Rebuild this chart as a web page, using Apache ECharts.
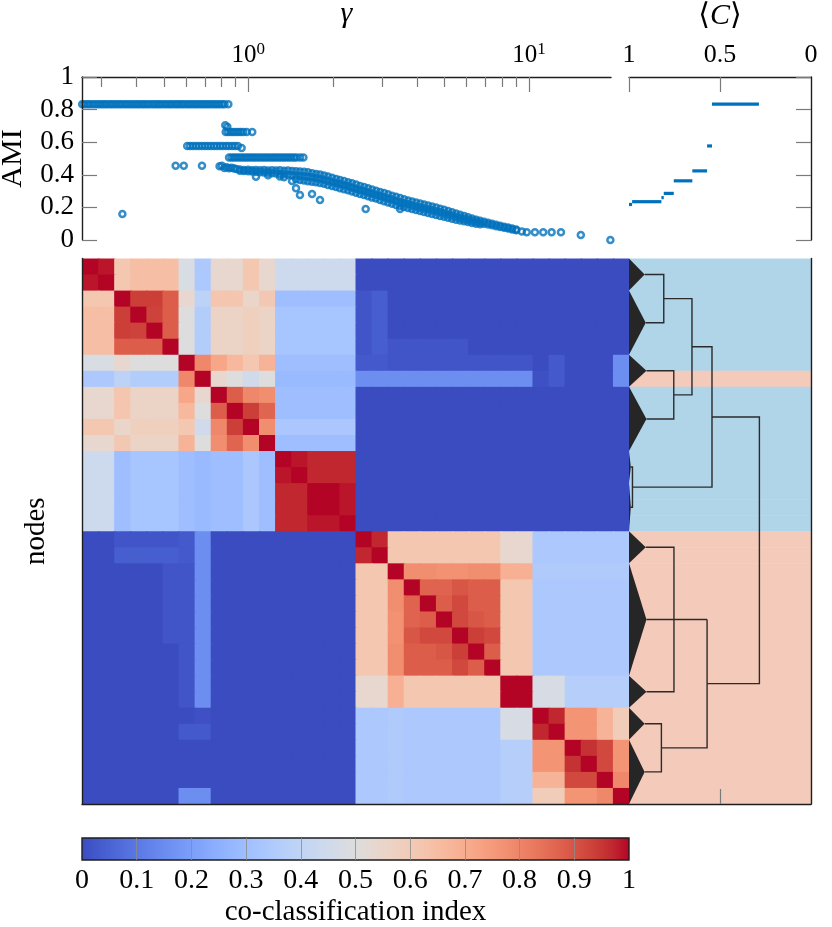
<!DOCTYPE html>
<html>
<head>
<meta charset="utf-8">
<script src="https://cdn.jsdelivr.net/npm/echarts@6/dist/echarts.min.js"></script>
<style>
  html, body { margin: 0; padding: 0; background: #fff; }
  #chart { width: 832px; height: 927px; }
</style>
</head>
<body>
<div id="chart"></div>
<script>
const FONT = '"Liberation Serif", "DejaVu Serif", serif'
const BLUE = '#0072bd'
const INK = '#1e1e1e'
const TICK = '#7a7a7a'

// ---- top left: AMI against gamma ----
const gammaRange = [0.2556, 19.6]
const plateauGamma = [0.256, 0.261, 0.267, 0.272, 0.278, 0.284, 0.290, 0.296, 0.302, 0.308, 0.314, 0.321,
  0.327, 0.334, 0.341, 0.348, 0.355, 0.363, 0.370, 0.378, 0.386, 0.394, 0.402, 0.410, 0.419, 0.427, 0.436,
  0.445, 0.455, 0.464, 0.474, 0.483, 0.493, 0.504, 0.514, 0.525, 0.535, 0.547, 0.558, 0.569, 0.581, 0.593,
  0.606, 0.618, 0.631, 0.644, 0.657, 0.671, 0.685, 0.699, 0.713, 0.728, 0.743, 0.759, 0.774, 0.790, 0.807,
  0.823, 0.849]
const plateauAmi = 0.833
const step070 = [[0.828, 0.704], [0.842, 0.694]]
const step066Gamma = [0.831, 0.848, 0.866, 0.884, 0.902, 0.921, 0.940, 0.960, 0.987, 1.033]
const step066Ami = 0.663
const step058Gamma = [0.606, 0.620, 0.635, 0.651, 0.667, 0.684, 0.701, 0.718, 0.736, 0.755, 0.773, 0.793,
  0.812, 0.833, 0.853, 0.875, 0.896, 0.918]
const step058Ami = 0.577
const step051Gamma = [0.854, 0.872, 0.890, 0.908, 0.927, 0.946, 0.966, 0.986, 1.006, 1.027, 1.048, 1.070,
  1.092, 1.115, 1.138, 1.161, 1.185, 1.210, 1.235, 1.260, 1.286, 1.313, 1.340, 1.368, 1.396, 1.425, 1.455,
  1.485, 1.530, 1.572]
const step051Ami = 0.506
const step044 = [[0.790, 0.452], [0.806, 0.455], [0.822, 0.442], [0.838, 0.446], [0.855, 0.440],
  [0.872, 0.444], [0.890, 0.438], [0.908, 0.436], [0.947, 0.565]]
const strays = [[0.356, 0.159], [0.551, 0.455], [0.589, 0.455], [0.684, 0.455]]
const cloud = [
  [0.934, 0.432], [0.934, 0.425], [0.965, 0.430], [0.965, 0.424], [0.998, 0.431], [0.998, 0.422],
  [1.031, 0.428], [1.031, 0.420], [1.065, 0.430], [1.065, 0.418], [1.065, 0.388], [1.101, 0.428],
  [1.101, 0.416], [1.138, 0.430], [1.138, 0.414], [1.176, 0.427], [1.176, 0.412], [1.176, 0.398],
  [1.215, 0.428], [1.215, 0.410], [1.256, 0.426], [1.256, 0.408], [1.297, 0.428], [1.297, 0.405],
  [1.297, 0.390], [1.341, 0.425], [1.341, 0.403], [1.341, 0.385], [1.385, 0.426], [1.385, 0.400],
  [1.432, 0.424], [1.432, 0.398], [1.432, 0.362], [1.479, 0.422], [1.479, 0.395], [1.479, 0.372],
  [1.479, 0.318], [1.528, 0.420], [1.528, 0.392], [1.528, 0.368], [1.528, 0.276], [1.580, 0.418],
  [1.580, 0.390], [1.580, 0.365], [1.632, 0.415], [1.632, 0.388], [1.632, 0.360], [1.687, 0.410],
  [1.687, 0.385], [1.687, 0.358], [1.687, 0.282], [1.743, 0.405], [1.743, 0.380], [1.743, 0.355],
  [1.801, 0.402], [1.801, 0.375], [1.801, 0.350], [1.801, 0.245], [1.861, 0.396], [1.861, 0.370],
  [1.861, 0.345], [1.923, 0.390], [1.923, 0.362], [1.923, 0.338], [1.988, 0.382], [1.988, 0.356],
  [1.988, 0.332], [2.054, 0.375], [2.054, 0.350], [2.054, 0.325], [2.122, 0.368], [2.122, 0.343],
  [2.122, 0.318], [2.193, 0.362], [2.193, 0.336], [2.193, 0.312], [2.267, 0.355], [2.267, 0.330],
  [2.267, 0.305], [2.342, 0.348], [2.342, 0.322], [2.342, 0.298], [2.420, 0.340], [2.420, 0.315],
  [2.420, 0.290], [2.501, 0.332], [2.501, 0.306], [2.501, 0.282], [2.585, 0.325], [2.585, 0.300],
  [2.585, 0.276], [2.620, 0.190], [2.671, 0.318], [2.671, 0.292], [2.671, 0.268], [2.760, 0.310],
  [2.760, 0.285], [2.760, 0.260], [2.852, 0.302], [2.852, 0.278], [2.852, 0.254], [2.948, 0.295],
  [2.948, 0.270], [2.948, 0.246], [3.046, 0.288], [3.046, 0.262], [3.046, 0.238], [3.148, 0.280],
  [3.148, 0.255], [3.148, 0.230], [3.253, 0.272], [3.253, 0.248], [3.253, 0.222], [3.361, 0.265],
  [3.361, 0.240], [3.361, 0.215], [3.474, 0.258], [3.474, 0.232], [3.474, 0.208], [3.474, 0.190],
  [3.590, 0.250], [3.590, 0.226], [3.590, 0.202], [3.709, 0.243], [3.709, 0.220], [3.709, 0.196],
  [3.833, 0.236], [3.833, 0.212], [3.833, 0.190], [3.961, 0.230], [3.961, 0.206], [3.961, 0.184],
  [4.094, 0.224], [4.094, 0.200], [4.094, 0.178], [4.230, 0.218], [4.230, 0.194], [4.230, 0.172],
  [4.372, 0.212], [4.372, 0.188], [4.372, 0.166], [4.517, 0.206], [4.517, 0.182], [4.517, 0.160],
  [4.668, 0.200], [4.668, 0.176], [4.668, 0.154], [4.824, 0.192], [4.824, 0.170], [4.824, 0.148],
  [4.985, 0.185], [4.985, 0.162], [4.985, 0.142], [5.152, 0.178], [5.152, 0.156], [5.152, 0.136],
  [5.323, 0.170], [5.323, 0.150], [5.323, 0.130], [5.501, 0.162], [5.501, 0.143], [5.501, 0.125],
  [5.685, 0.155], [5.685, 0.136], [5.685, 0.120], [5.875, 0.148], [5.875, 0.130], [5.875, 0.115],
  [6.071, 0.140], [6.071, 0.124], [6.071, 0.110], [6.273, 0.132], [6.273, 0.118], [6.273, 0.105],
  [6.483, 0.125], [6.483, 0.112], [6.483, 0.100], [6.699, 0.118], [6.699, 0.106], [6.699, 0.096],
  [6.923, 0.112], [6.923, 0.100], [7.154, 0.106], [7.154, 0.095], [7.393, 0.100], [7.393, 0.090],
  [7.640, 0.094], [7.640, 0.085], [7.895, 0.088], [7.895, 0.080], [8.159, 0.082], [8.159, 0.075],
  [8.431, 0.076], [8.431, 0.070], [8.713, 0.070], [8.713, 0.064], [9.003, 0.065], [9.003, 0.060]
]
const tail = [[9.43, 0.052], [9.82, 0.047], [10.5, 0.047], [11.24, 0.047], [12.04, 0.047], [13.0, 0.047],
  [15.3, 0.031], [19.5, 0.0]]
const gammaMajor = [1, 10]
const gammaMinor = [0.3, 0.4, 0.5, 0.6, 0.7, 0.8, 0.9, 2, 3, 4, 5, 6, 7, 8, 9]

// ---- top right: AMI against mean co-classification, [C from, C to, AMI] ----
const cSegments = [[1.0, 0.983, 0.218], [0.983, 0.822, 0.235], [0.822, 0.809, 0.26], [0.809, 0.754, 0.286],
  [0.754, 0.652, 0.363], [0.652, 0.571, 0.424], [0.571, 0.544, 0.577], [0.544, 0.286, 0.833]]

// ---- co-classification matrix, 34 nodes in dendrogram order ----
const coClass = [
  [1, .985, .615, .645, .645, .645, .48, .34, .54, .54, .615, .54, .44, .44, .44, .44, .44, 0, 0, 0, 0, 0, 0, 0, 0, 0, 0, 0, 0, 0, 0, 0, 0, 0],
  [.985, 1, .615, .645, .645, .645, .48, .34, .54, .54, .615, .54, .44, .44, .44, .44, .44, 0, 0, 0, 0, 0, 0, 0, 0, 0, 0, 0, 0, 0, 0, 0, 0, 0],
  [.615, .615, 1, .935, .935, .88, .54, .39, .62, .62, .55, .61, .30, .30, .30, .30, .30, .02, .04, 0, 0, 0, 0, 0, 0, 0, 0, 0, 0, 0, 0, 0, 0, 0],
  [.645, .645, .935, 1, .93, .88, .50, .36, .56, .56, .58, .56, .325, .325, .325, .325, .325, .02, .04, 0, 0, 0, 0, 0, 0, 0, 0, 0, 0, 0, 0, 0, 0, 0],
  [.645, .645, .935, .93, 1, .88, .50, .36, .56, .56, .58, .56, .325, .325, .325, .325, .325, .02, .04, 0, 0, 0, 0, 0, 0, 0, 0, 0, 0, 0, 0, 0, 0, 0],
  [.645, .645, .88, .88, .88, 1, .50, .36, .56, .56, .58, .56, .325, .325, .325, .325, .325, .02, .04, .02, .02, .02, .02, .02, 0, 0, 0, 0, 0, 0, 0, 0, 0, 0],
  [.48, .48, .54, .50, .50, .50, 1, .795, .72, .665, .615, .68, .30, .30, .30, .30, .30, .03, .03, .02, .02, .02, .02, .02, .02, .02, .02, .02, 0, .03, 0, 0, 0, .155],
  [.34, .34, .39, .36, .36, .36, .795, 1, .54, .50, .455, .50, .285, .285, .285, .285, .285, .155, .155, .155, .155, .155, .155, .155, .155, .155, .155, .155, .01, .03, 0, 0, 0, .155],
  [.54, .54, .62, .56, .56, .56, .72, .54, 1, .88, .795, .78, .30, .30, .30, .30, .30, 0, 0, 0, 0, 0, 0, 0, 0, 0, 0, 0, 0, 0, 0, 0, 0, 0],
  [.54, .54, .62, .56, .56, .56, .665, .50, .88, 1, .935, .865, .30, .30, .30, .30, .30, 0, 0, 0, 0, 0, 0, 0, 0, 0, 0, 0, 0, 0, 0, 0, 0, 0],
  [.615, .615, .55, .58, .58, .58, .615, .455, .795, .935, 1, .78, .335, .335, .335, .335, .335, 0, 0, 0, 0, 0, 0, 0, 0, 0, 0, 0, 0, 0, 0, 0, 0, 0],
  [.54, .54, .61, .56, .56, .56, .68, .50, .78, .865, .78, 1, .30, .30, .30, .30, .30, 0, 0, 0, 0, 0, 0, 0, 0, 0, 0, 0, 0, 0, 0, 0, 0, 0],
  [.44, .44, .30, .325, .325, .325, .30, .285, .30, .30, .335, .30, 1, .985, .97, .97, .97, 0, 0, 0, 0, 0, 0, 0, 0, 0, 0, 0, 0, 0, 0, 0, 0, 0],
  [.44, .44, .30, .325, .325, .325, .30, .285, .30, .30, .335, .30, .985, 1, .97, .97, .97, 0, 0, 0, 0, 0, 0, 0, 0, 0, 0, 0, 0, 0, 0, 0, 0, 0],
  [.44, .44, .30, .325, .325, .325, .30, .285, .30, .30, .335, .30, .97, .97, 1, 1, .985, 0, 0, 0, 0, 0, 0, 0, 0, 0, 0, 0, 0, 0, 0, 0, 0, 0],
  [.44, .44, .30, .325, .325, .325, .30, .285, .30, .30, .335, .30, .97, .97, 1, 1, .985, 0, 0, 0, 0, 0, 0, 0, 0, 0, 0, 0, 0, 0, 0, 0, 0, 0],
  [.44, .44, .30, .325, .325, .325, .30, .285, .30, .30, .335, .30, .97, .97, .985, .985, 1, 0, 0, 0, 0, 0, 0, 0, 0, 0, 0, 0, 0, 0, 0, 0, 0, 0],
  [0, 0, .02, .02, .02, .02, .03, .155, 0, 0, 0, 0, 0, 0, 0, 0, 0, 1, .97, .615, .615, .615, .615, .615, .615, .615, .54, .54, .34, .34, .34, .34, .34, .34],
  [0, 0, .04, .04, .04, .04, .03, .155, 0, 0, 0, 0, 0, 0, 0, 0, 0, .97, 1, .615, .615, .615, .615, .615, .615, .615, .54, .54, .34, .34, .34, .34, .34, .34],
  [0, 0, 0, 0, 0, .02, .02, .155, 0, 0, 0, 0, 0, 0, 0, 0, 0, .615, .615, 1, .78, .78, .77, .77, .78, .78, .69, .69, .35, .35, .35, .35, .35, .35],
  [0, 0, 0, 0, 0, .02, .02, .155, 0, 0, 0, 0, 0, 0, 0, 0, 0, .615, .615, .78, 1, .87, .87, .895, .88, .88, .615, .615, .34, .34, .34, .34, .34, .34],
  [0, 0, 0, 0, 0, .02, .02, .155, 0, 0, 0, 0, 0, 0, 0, 0, 0, .615, .615, .78, .87, 1, .88, .92, .88, .88, .615, .615, .34, .34, .34, .34, .34, .34],
  [0, 0, 0, 0, 0, .02, .02, .155, 0, 0, 0, 0, 0, 0, 0, 0, 0, .615, .615, .77, .87, .88, 1, .92, .895, .88, .615, .615, .34, .34, .34, .34, .34, .34],
  [0, 0, 0, 0, 0, .02, .02, .155, 0, 0, 0, 0, 0, 0, 0, 0, 0, .615, .615, .77, .895, .92, .92, 1, .935, .92, .615, .615, .34, .34, .34, .34, .34, .34],
  [0, 0, 0, 0, 0, 0, .02, .155, 0, 0, 0, 0, 0, 0, 0, 0, 0, .615, .615, .78, .88, .88, .895, .935, 1, .88, .615, .615, .34, .34, .34, .34, .34, .34],
  [0, 0, 0, 0, 0, 0, .02, .155, 0, 0, 0, 0, 0, 0, 0, 0, 0, .615, .615, .78, .88, .88, .88, .92, .88, 1, .615, .615, .34, .34, .34, .34, .34, .34],
  [0, 0, 0, 0, 0, 0, .02, .155, 0, 0, 0, 0, 0, 0, 0, 0, 0, .54, .54, .69, .615, .615, .615, .615, .615, .615, 1, 1, .475, .475, .37, .37, .37, .37],
  [0, 0, 0, 0, 0, 0, .02, .155, 0, 0, 0, 0, 0, 0, 0, 0, 0, .54, .54, .69, .615, .615, .615, .615, .615, .615, 1, 1, .475, .475, .37, .37, .37, .37],
  [0, 0, 0, 0, 0, 0, 0, .01, 0, 0, 0, 0, 0, 0, 0, 0, 0, .34, .34, .35, .34, .34, .34, .34, .34, .34, .475, .475, 1, .97, .765, .765, .68, .595],
  [0, 0, 0, 0, 0, 0, .03, .03, 0, 0, 0, 0, 0, 0, 0, 0, 0, .34, .34, .35, .34, .34, .34, .34, .34, .34, .475, .475, .97, 1, .765, .765, .68, .595],
  [0, 0, 0, 0, 0, 0, 0, 0, 0, 0, 0, 0, 0, 0, 0, 0, 0, .34, .34, .35, .34, .34, .34, .34, .34, .34, .37, .37, .765, .765, 1, .955, .92, .765],
  [0, 0, 0, 0, 0, 0, 0, 0, 0, 0, 0, 0, 0, 0, 0, 0, 0, .34, .34, .35, .34, .34, .34, .34, .34, .34, .37, .37, .765, .765, .955, 1, .92, .765],
  [0, 0, 0, 0, 0, 0, 0, 0, 0, 0, 0, 0, 0, 0, 0, 0, 0, .34, .34, .35, .34, .34, .34, .34, .34, .34, .37, .37, .68, .68, .92, .92, 1, .795],
  [0, 0, 0, 0, 0, 0, .155, .155, 0, 0, 0, 0, 0, 0, 0, 0, 0, .34, .34, .35, .34, .34, .34, .34, .34, .34, .37, .37, .595, .595, .765, .765, .795, 1]
]
const colorTicks = [0, 0.1, 0.2, 0.3, 0.4, 0.5, 0.6, 0.7, 0.8, 0.9, 1]

// ---- dendrogram: final community of each node, leaf wedges, links ----
const nodeGroup = [0, 0, 0, 0, 0, 0, 0, 1, 0, 0, 0, 0, 0, 0, 0, 0, 0,
  1, 1, 1, 1, 1, 1, 1, 1, 1, 1, 1, 1, 1, 1, 1, 1, 1]
// [first row, last row + 1, <C> at the tip]
const leafWedges = [[0, 2, 0.914], [2, 6, 0.908], [6, 8, 0.904], [8, 12, 0.904], [12, 14, 0.99], [14, 17, 0.99],
  [17, 19, 0.908], [19, 26, 0.904], [26, 28, 0.904], [28, 30, 0.914], [30, 34, 0.914]]
// [row a, row b, <C> of child a, <C> of child b, <C> of merge]
const links = [[1, 4, 0.914, 0.908, 0.809], [7, 10, 0.904, 0.904, 0.754], [2.5, 8.5, 0.809, 0.754, 0.654],
  [13, 15.5, 0.99, 0.99, 0.981], [5.5, 14.25, 0.654, 0.981, 0.544], [18, 27, 0.908, 0.904, 0.753],
  [22.5, 22.5, 0.753, 0.904, 0.571], [29, 32, 0.914, 0.914, 0.822], [22.5, 30.5, 0.571, 0.822, 0.571],
  [9.875, 26.5, 0.544, 0.571, 0.2835]]

const coolwarm = ['#3b4cc0', '#445acc', '#4d68d7', '#5775e1', '#6282ea', '#6c8ef1', '#779af7', '#82a5fb',
  '#8db0fe', '#98b9ff', '#a3c2ff', '#aec9fd', '#b8d0f9', '#c2d5f4', '#ccd9ee', '#d5dbe6', '#dddddd',
  '#e5d8d1', '#ecd3c5', '#f1ccb9', '#f5c4ad', '#f7bba0', '#f7b194', '#f7a687', '#f49a7b', '#f18d6f',
  '#ec7f63', '#e57058', '#de604d', '#d55042', '#cb3e38', '#c0282f', '#b40426']
const groupColors = ['#b0d4e8', '#f4cbbb']

const nodeIds = coClass.map((row, i) => String(i))
const lastNode = nodeIds.length - 1
const heatData = []
coClass.forEach((row, r) => row.forEach((v, c) => heatData.push([c, r, v])))

const scatterData = [].concat(
  plateauGamma.map(g => [g, plateauAmi]),
  step070,
  step066Gamma.map(g => [g, step066Ami]),
  step058Gamma.map(g => [g, step058Ami]),
  step051Gamma.map(g => [g, step051Ami]),
  step044, strays, cloud, tail
)

const axisLine = { show: true, onZero: false, lineStyle: { color: INK, width: 1.4 } }
const tickStyle = { color: TICK, width: 1.2 }
const noTick = { show: false }
const noLabel = { show: false }
const noSplit = { show: false }
const gridBox = (left, top, width, height) => ({ left, top, width, height, outerBoundsMode: 'none', containLabel: false })

const chart = echarts.init(document.getElementById('chart'))
chart.setOption({
  animation: false,
  textStyle: { fontFamily: FONT, color: '#000' },
  grid: [
    gridBox(82, 77, 529, 163),
    gridBox(629, 77, 182, 163),
    gridBox(82, 258.5, 547, 545.5),
    gridBox(629, 258.5, 182, 545.5),
    gridBox(82, 838, 547, 22)
  ],
  xAxis: [
    {
      gridIndex: 0, type: 'log', position: 'top', min: gammaRange[0], max: gammaRange[1], z: 5,
      name: 'γ', nameLocation: 'middle', nameGap: 48,
      nameTextStyle: { fontFamily: FONT, fontSize: 30, fontStyle: 'italic', color: '#000' },
      axisLine: axisLine,
      axisTick: { show: true, inside: true, length: 15, customValues: gammaMajor, lineStyle: tickStyle },
      axisLabel: {
        customValues: gammaMajor, margin: 8,
        formatter: v => '{b|10}{s|' + Math.round(Math.log10(v)) + '}',
        rich: {
          b: { fontFamily: FONT, fontSize: 25, lineHeight: 28, color: '#000' },
          s: { fontFamily: FONT, fontSize: 17, lineHeight: 18, verticalAlign: 'top', color: '#000' }
        }
      },
      splitLine: noSplit
    },
    {
      gridIndex: 0, type: 'log', position: 'top', min: gammaRange[0], max: gammaRange[1], z: 5,
      axisLine: { show: false, onZero: false },
      axisTick: { show: true, inside: true, length: 10, customValues: gammaMinor, lineStyle: tickStyle },
      axisLabel: noLabel, splitLine: noSplit
    },
    {
      gridIndex: 1, type: 'value', position: 'top', min: 0, max: 1, inverse: true, z: 5,
      name: '⟨{i|C}⟩', nameLocation: 'middle', nameGap: 46,
      nameTextStyle: {
        fontFamily: FONT, fontSize: 30, color: '#000',
        rich: { i: { fontFamily: FONT, fontSize: 30, fontStyle: 'italic', color: '#000' } }
      },
      axisLine: axisLine,
      axisTick: { show: true, inside: true, length: 15, customValues: [1, 0.5], lineStyle: tickStyle },
      axisLabel: { customValues: [1, 0.5, 0], margin: 9, fontFamily: FONT, fontSize: 26, color: '#000' },
      splitLine: noSplit
    },
    {
      gridIndex: 2, type: 'category', data: nodeIds, position: 'bottom', z: 5,
      axisLine: axisLine, axisTick: noTick, axisLabel: noLabel, splitLine: noSplit
    },
    {
      gridIndex: 3, type: 'value', position: 'bottom', min: 0, max: 1, inverse: true, z: 5,
      axisLine: axisLine,
      axisTick: { show: true, inside: true, length: 15, customValues: [0.5], lineStyle: tickStyle },
      axisLabel: noLabel, splitLine: noSplit
    },
    {
      gridIndex: 4, type: 'value', position: 'bottom', min: 0, max: 1, interval: 0.1, z: 10,
      name: 'co-classification index', nameLocation: 'middle', nameGap: 38,
      nameTextStyle: { fontFamily: FONT, fontSize: 29, color: '#000' },
      axisLine: { show: false, onZero: false },
      axisTick: { inside: true, length: 22, customValues: colorTicks.slice(1, -1), lineStyle: { color: '#8c8c8c', width: 0.8 } },
      axisLabel: { customValues: colorTicks, margin: 7, fontFamily: FONT, fontSize: 28, color: '#000' },
      splitLine: noSplit
    }
  ],
  yAxis: [
    {
      gridIndex: 0, type: 'value', position: 'left', min: 0, max: 1, interval: 0.2, z: 5,
      name: 'AMI', nameLocation: 'middle', nameGap: 54, nameRotate: 90,
      nameTextStyle: { fontFamily: FONT, fontSize: 30, color: '#000' },
      axisLine: axisLine,
      axisTick: { show: true, inside: true, length: 15, lineStyle: tickStyle },
      axisLabel: { margin: 8, fontFamily: FONT, fontSize: 27, color: '#000' },
      splitLine: noSplit
    },
    {
      gridIndex: 1, type: 'value', position: 'right', min: 0, max: 1, interval: 0.2, z: 5,
      axisLine: axisLine,
      axisTick: { show: true, inside: true, length: 15, lineStyle: tickStyle },
      axisLabel: noLabel, splitLine: noSplit
    },
    {
      gridIndex: 2, type: 'category', data: nodeIds, inverse: true, position: 'left', z: 5,
      name: 'nodes', nameLocation: 'middle', nameGap: 31, nameRotate: 90,
      nameTextStyle: { fontFamily: FONT, fontSize: 29, color: '#000' },
      axisLine: axisLine, axisTick: noTick, axisLabel: noLabel, splitLine: noSplit
    },
    {
      gridIndex: 3, type: 'value', position: 'right', min: 0, max: 34, inverse: true, z: 5,
      axisLine: axisLine, axisTick: noTick, axisLabel: noLabel, splitLine: noSplit
    },
    {
      gridIndex: 4, type: 'value', min: 0, max: 1, show: false
    }
  ],
  visualMap: {
    show: false, type: 'continuous', min: 0, max: 1, dimension: 2, seriesIndex: 2,
    inRange: { color: coolwarm }
  },
  series: [
    {
      type: 'scatter', xAxisIndex: 0, yAxisIndex: 0, data: scatterData,
      symbol: 'circle', symbolSize: 6,
      itemStyle: { color: 'rgba(0,0,0,0)', borderColor: BLUE, borderWidth: 2.5 },
      emphasis: { disabled: true }
    },
    {
      type: 'custom', coordinateSystem: 'cartesian2d', xAxisIndex: 2, yAxisIndex: 1,
      data: cSegments,
      encode: { x: [0, 1], y: 2 },
      renderItem: (params, api) => {
        const a = api.coord([api.value(0), api.value(2)])
        const b = api.coord([api.value(1), api.value(2)])
        return {
          type: 'rect',
          shape: { x: Math.min(a[0], b[0]), y: a[1] - 1.6, width: Math.abs(b[0] - a[0]), height: 3.2 },
          style: { fill: BLUE }
        }
      }
    },
    {
      // heat cells overlap their right and lower neighbours by a pixel so no seams show
      type: 'custom', coordinateSystem: 'cartesian2d', xAxisIndex: 3, yAxisIndex: 2,
      data: heatData,
      encode: { x: 0, y: 1 },
      renderItem: (params, api) => {
        const p = api.coord([api.value(0), api.value(1)])
        const s = api.size([1, 1])
        const padX = api.value(0) < lastNode ? 1.2 : 0
        const padY = api.value(1) < lastNode ? 1.2 : 0
        return {
          type: 'rect',
          shape: { x: p[0] - s[0] / 2, y: p[1] - s[1] / 2, width: s[0] + padX, height: s[1] + padY },
          style: { fill: api.visual('color') }
        }
      }
    },
    {
      type: 'custom', coordinateSystem: 'cartesian2d', xAxisIndex: 4, yAxisIndex: 3,
      data: nodeGroup.map((g, i) => [i, g]),
      encode: { y: 0 },
      renderItem: (params, api) => {
        const a = api.coord([1, api.value(0)])
        const b = api.coord([0, api.value(0) + 1])
        return {
          type: 'rect',
          shape: { x: Math.min(a[0], b[0]), y: Math.min(a[1], b[1]), width: Math.abs(b[0] - a[0]), height: Math.abs(b[1] - a[1]) + 0.5 },
          style: { fill: groupColors[api.value(1)] }
        }
      }
    },
    {
      type: 'custom', coordinateSystem: 'cartesian2d', xAxisIndex: 4, yAxisIndex: 3,
      data: leafWedges,
      encode: { x: 2, y: [0, 1] },
      renderItem: (params, api) => {
        const r0 = api.value(0), r1 = api.value(1)
        return {
          type: 'polygon',
          shape: { points: [api.coord([1, r0]), api.coord([api.value(2), (r0 + r1) / 2]), api.coord([1, r1])] },
          style: { fill: '#262626' }
        }
      }
    },
    {
      type: 'custom', coordinateSystem: 'cartesian2d', xAxisIndex: 4, yAxisIndex: 3,
      data: links,
      encode: { x: [2, 3, 4], y: [0, 1] },
      renderItem: (params, api) => {
        const y1 = api.value(0), y2 = api.value(1), cm = api.value(4)
        return {
          type: 'polyline',
          shape: { points: [api.coord([api.value(2), y1]), api.coord([cm, y1]), api.coord([cm, y2]), api.coord([api.value(3), y2])] },
          style: { stroke: '#2b2b2b', lineWidth: 1.4, fill: null }
        }
      }
    },
    {
      type: 'custom', coordinateSystem: 'cartesian2d', xAxisIndex: 5, yAxisIndex: 4,
      data: [[0, 1]],
      renderItem: (params, api) => {
        const a = api.coord([api.value(0), 0])
        const b = api.coord([api.value(1), 1])
        return {
          type: 'rect',
          shape: { x: a[0], y: b[1], width: b[0] - a[0], height: a[1] - b[1] },
          style: {
            fill: new echarts.graphic.LinearGradient(0, 0, 1, 0,
              coolwarm.map((c, i) => ({ offset: i / (coolwarm.length - 1), color: c }))),
            stroke: INK, lineWidth: 1.4
          }
        }
      }
    }
  ]
})
</script>
</body>
</html>
